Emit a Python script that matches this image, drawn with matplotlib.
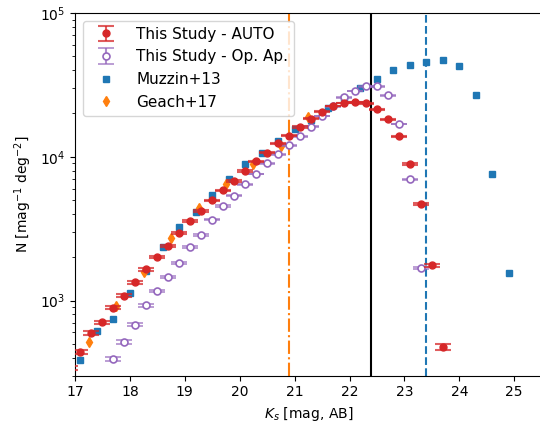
import numpy as np
import matplotlib
matplotlib.use("Agg")
import matplotlib.pyplot as plt

# number counts, this study (AUTO magnitudes)
auto_mag = [16.9, 17.1, 17.3, 17.5, 17.7, 17.9, 18.1, 18.3, 18.5, 18.7, 18.9,
            19.1, 19.3, 19.5, 19.7, 19.9, 20.1, 20.3, 20.5, 20.7, 20.9, 21.1,
            21.3, 21.5, 21.7, 21.9, 22.1, 22.3, 22.5, 22.7, 22.9, 23.1, 23.3,
            23.5, 23.7]
auto_n = [340, 440, 596, 705, 889, 1079, 1336, 1645, 2004, 2404, 2933,
          3549, 4208, 4972, 5838, 6770, 7946, 9290, 10660, 12400, 14000, 16100,
          18370, 20550, 22520, 23640, 24030, 23560, 21380, 18210, 13860, 8930, 4670,
          1762, 477]
auto_err = [12, 14, 17, 19, 22, 25, 29, 33, 38, 42, 48,
            54, 60, 66, 73, 80, 88, 97, 105, 114, 122, 132,
            141, 150, 157, 162, 163, 161, 154, 142, 124, 99, 72,
            44, 22]

# number counts, this study (optimal aperture)
opap_mag = [17.7, 17.9, 18.1, 18.3, 18.5, 18.7, 18.9, 19.1, 19.3, 19.5, 19.7,
            19.9, 20.1, 20.3, 20.5, 20.7, 20.9, 21.1, 21.3, 21.5, 21.7, 21.9,
            22.1, 22.3, 22.5, 22.7, 22.9, 23.1, 23.3]
opap_n = [391, 517, 678, 925, 1162, 1455, 1812, 2355, 2867, 3647, 4541,
          5357, 6428, 7585, 8999, 10390, 12000, 13850, 16190, 19190, 22420, 25900,
          28650, 30880, 30880, 26750, 16890, 7000, 1672]
opap_err = [13, 15, 17, 20, 23, 25, 28, 32, 36, 40, 45,
            48, 53, 58, 63, 68, 73, 78, 84, 92, 99, 107,
            112, 117, 117, 109, 86, 55, 27]

# literature counts
muzzin_mag = [17.1, 17.4, 17.7, 18.0, 18.3, 18.6, 18.9, 19.2, 19.5, 19.8,
              20.1, 20.4, 20.7, 21.0, 21.3, 21.6, 21.9, 22.2, 22.5, 22.8,
              23.1, 23.4, 23.7, 24.0, 24.3, 24.6, 24.9]
muzzin_n = [385, 610, 747, 1125, 1611, 2356, 3244, 4143, 5386, 6962,
            8848, 10660, 12920, 15520, 18000, 21730, 25760, 30190, 34740, 39910,
            43450, 45810, 46870, 42960, 26740, 7550, 1560]

geach_mag = [17.25, 17.75, 18.25, 18.75, 19.25, 19.75, 20.25, 20.75, 21.25]
geach_n = [517, 918, 1585, 2706, 4374, 6486, 8857, 11860, 18970]

# completeness / depth limits
geach_limit = 20.9
study_limit = 22.4
muzzin_limit = 23.4

red = "tab:red"
purple = "tab:purple"

fig = plt.figure(figsize=(5.4, 4.25), dpi=100)
ax = fig.add_axes([0.1389, 0.116, 0.8642, 0.8535])

h_auto = ax.errorbar(auto_mag, auto_n, yerr=auto_err, fmt="o", color=red, ms=5,
                     ecolor=matplotlib.colors.to_rgba(red, 0.75), elinewidth=1.5,
                     capsize=6, capthick=1.5, zorder=5, label="This Study - AUTO")
h_opap = ax.errorbar(opap_mag, opap_n, yerr=opap_err, fmt="o", color=purple, ms=5,
                     mfc="white", mec=purple, mew=1.2,
                     ecolor=matplotlib.colors.to_rgba(purple, 0.75), elinewidth=1.5,
                     capsize=6, capthick=1.5, zorder=4, label="This Study - Op. Ap.")
h_muz, = ax.plot(muzzin_mag, muzzin_n, "s", color="tab:blue", ms=5, ls="none",
                 zorder=3, label="Muzzin+13")
h_gea, = ax.plot(geach_mag, geach_n, "d", color="tab:orange", ms=5, ls="none",
                 zorder=3, label="Geach+17")

ax.axvline(geach_limit, color="tab:orange", ls="-.", lw=1.5, zorder=1)
ax.axvline(study_limit, color="black", ls="-", lw=1.5, zorder=1)
ax.axvline(muzzin_limit, color="tab:blue", ls="--", lw=1.5, zorder=1)

ax.set_yscale("log")
ax.set_xlim(17, 25.5)
ax.set_ylim(300, 1e5)
ax.set_xticks(np.arange(17, 26, 1))
ax.set_xlabel("$K_s$ [mag, AB]")
ax.set_ylabel("N [mag$^{-1}$ deg$^{-2}$]")

ax.legend(handles=[h_auto, h_opap, h_muz, h_gea], loc="upper left",
          fontsize=11, handlelength=2.3)

fig.savefig("out.png", dpi=100)
